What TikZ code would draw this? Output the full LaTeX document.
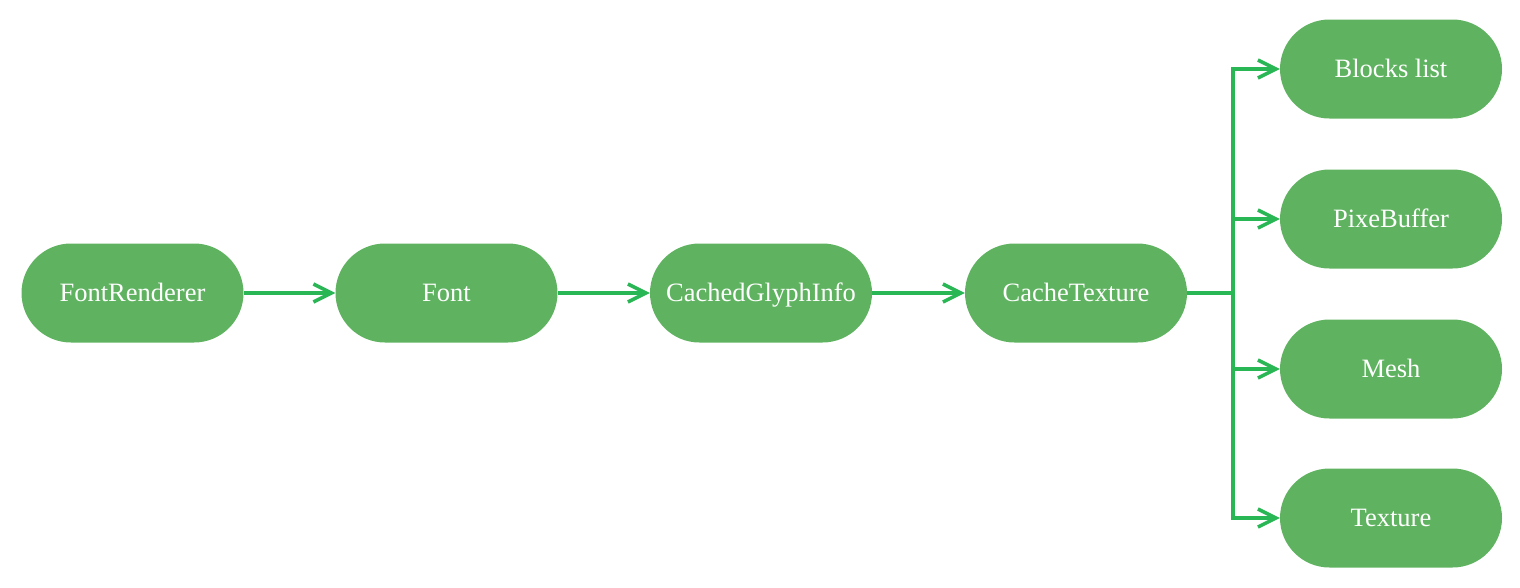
\documentclass[tikz,border=0pt]{standalone}
\usepackage{fontspec}
\setmainfont{Liberation Serif}
\usetikzlibrary{arrows.meta}
\definecolor{nodefill}{RGB}{95,179,96}
\definecolor{linkc}{RGB}{41,182,84}
\begin{document}
\begin{tikzpicture}[x=1pt,y=-1pt,
  box/.style={draw=none,fill=nodefill,rounded corners=49.5pt,minimum width=222pt,minimum height=99pt,inner sep=0pt,text=white,font=\fontsize{26.5}{32}\selectfont,text height=17.5pt,text depth=0pt},
  link/.style={draw=linkc,line width=3.5pt,-{Straight Barb[length=18pt,width=18pt,line width=3.5pt]}}]
\useasboundingbox (0,0) rectangle (1520,587);
\node[box] (fr) at (132.5,293) {FontRenderer};
\node[box] (f) at (446.5,293) {Font};
\node[box] (cg) at (761,293) {CachedGlyphInfo};
\node[box] (ct) at (1076,293) {CacheTexture};
\node[box] (bl) at (1391,69) {Blocks list};
\node[box] (pb) at (1391,219) {PixeBuffer};
\node[box] (me) at (1391,369) {Mesh};
\node[box] (te) at (1391,518) {Texture};
\draw[link] (fr) -- (f);
\draw[link] (f) -- (cg);
\draw[link] (cg) -- (ct);
\coordinate (j) at (1233,293);
\draw[draw=linkc,line width=3.5pt] (ct.east) -- (j);
\draw[link] (j) |- (bl.west);
\draw[link] (j) |- (pb.west);
\draw[link] (j) |- (me.west);
\draw[link] (j) |- (te.west);
\end{tikzpicture}
\end{document}
